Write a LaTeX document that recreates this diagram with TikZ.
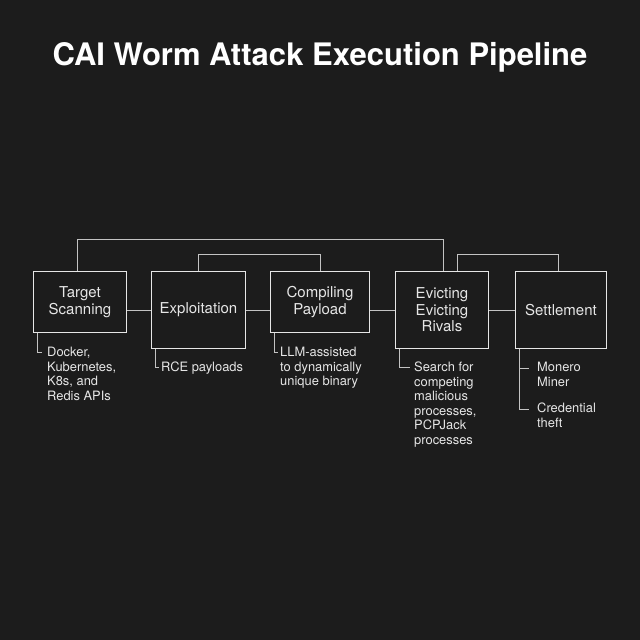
\documentclass[tikz,border=0pt]{standalone}
\usepackage{fontspec}
\setmainfont{TeX Gyre Heros}
\usetikzlibrary{calc}
\definecolor{bg}{HTML}{1C1C1C}
\definecolor{ink}{HTML}{E6E6E6}
\begin{document}
\begin{tikzpicture}[x=1pt,y=-1pt,
  stage/.style={draw=ink,line width=1pt,text=ink,anchor=north west,inner sep=0pt,
    align=center,font=\fontsize{15}{16.5}\selectfont},
  note/.style={text=ink,anchor=north west,inner sep=0pt,align=left,
    font=\fontsize{12.9}{14.5}\selectfont},
  link/.style={draw=ink!85!black,line width=1pt}]
  \fill[bg] (0,0) rectangle (640,640); %background
  \node[text=white,font=\fontsize{31}{34}\bfseries\selectfont] (title) at (320,57) {CAI Worm Attack Execution Pipeline};
  % stages
  \node[stage,minimum width=93,minimum height=61] (scan) at (33,271) {Target\\Scanning};
  \node[stage,minimum width=94,minimum height=77] (exploit) at (151,271) {Exploitation};
  \node[stage,minimum width=99,minimum height=61] (compile) at (270,271) {Compiling\\Payload};
  \node[stage,minimum width=93,minimum height=77] (evict) at (395,271) {Evicting\\Evicting\\Rivals};
  \node[stage,minimum width=91,minimum height=77] (settle) at (515,271) {Settlement};
  % chain
  \draw[link] (scan.east|-0,310) -- (exploit.west|-0,310);
  \draw[link] (exploit.east|-0,310) -- (compile.west|-0,310);
  \draw[link] (compile.east|-0,310) -- (evict.west|-0,310);
  \draw[link] (evict.east|-0,310) -- (settle.west|-0,310);
  % loops over the top
  \draw[link] (scan.north-|77,0) |- (443,239) -- (evict.north-|443,0);
  \draw[link] (exploit.north-|198,0) |- (320,254) -- (compile.north-|320,0);
  \draw[link] (evict.north-|457,0) |- (558,254) -- (settle.north-|558,0);
  % notes
  \node[note] (n1) at (47,347) {Docker,\\Kubernetes,\\K8s, and\\Redis APIs};
  \node[note] (n2) at (161,362) {RCE payloads};
  \node[note] (n3) at (280,347) {LLM-assisted\\to dynamically\\unique binary};
  \node[note] (n4) at (414,362) {Search for\\competing\\malicious\\processes,\\PCPJack\\processes};
  \node[note] (n5a) at (537,362) {Monero\\Miner};
  \node[note] (n5b) at (537,403) {Credential\\theft};
  \draw[link] (scan.south-|37,0) |- (42,352);
  \draw[link] (exploit.south-|155,0) |- (159,367);
  \draw[link] (compile.south-|274,0) |- (278,352);
  \draw[link] (evict.south-|399,0) |- (410,367);
  \draw[link] (settle.south-|519,0) |- (529,409);
  \draw[link] (519,368) -- (529,368);
\end{tikzpicture}
\end{document}
